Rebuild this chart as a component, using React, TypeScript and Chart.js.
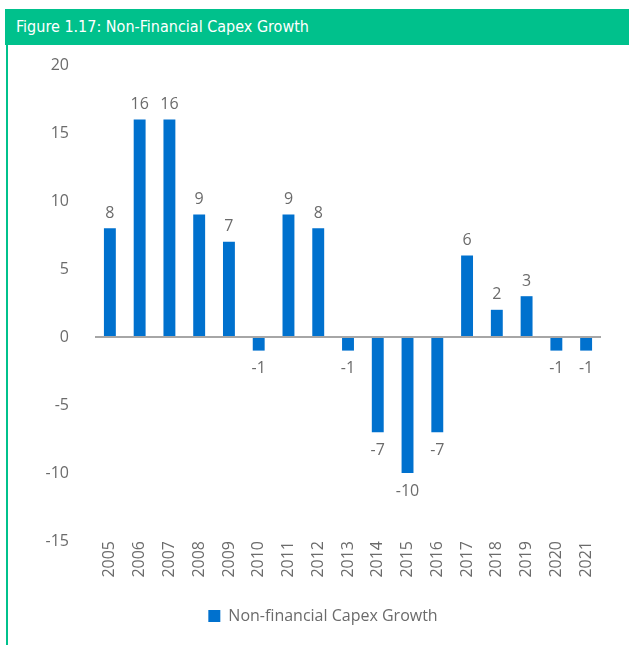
import React, { useEffect, useRef } from "react";
import { Chart, registerables } from "chart.js";

Chart.register(...registerables);

const title = "Figure 1.17: Non-Financial Capex Growth";
const seriesName = "Non-financial Capex Growth";
const years = ["2005","2006","2007","2008","2009","2010","2011","2012","2013","2014","2015","2016","2017","2018","2019","2020","2021"];
const growth = [8, 16, 16, 9, 7, -1, 9, 8, -1, -7, -10, -7, 6, 2, 3, -1, -1];
const yMin = -15;
const yMax = 20;
const yStep = 5;

const GREEN = "#00C18C";
const BLUE = "#0071CE";
const GRAY = "#6b6b6b";
const FONT = "'Open Sans', 'Noto Sans', sans-serif";

const valueLabels = {
  id: "valueLabels",
  afterDatasetsDraw(chart: any) {
    const ctx = chart.ctx;
    const meta = chart.getDatasetMeta(0);
    const data = chart.data.datasets[0].data as number[];
    ctx.save();
    ctx.font = `16px ${FONT}`;
    ctx.fillStyle = GRAY;
    ctx.textAlign = "center";
    ctx.textBaseline = "middle";
    meta.data.forEach((bar: any, i: number) => {
      const v = data[i];
      const y = v >= 0 ? bar.y - 15 : bar.y + 18;
      ctx.fillText(String(v), bar.x, y);
    });
    ctx.restore();
  },
};

export default function App() {
  const ref = useRef<HTMLCanvasElement | null>(null);

  useEffect(() => {
    if (!ref.current) return;
    const chart = new Chart(ref.current, {
      type: "bar",
      data: {
        labels: years,
        datasets: [
          {
            label: seriesName,
            data: growth,
            backgroundColor: BLUE,
            borderWidth: 0,
            barPercentage: 0.8,
            categoryPercentage: 0.5,
          },
        ],
      },
      options: {
        responsive: false,
        animation: false,
        layout: { padding: { top: 20, right: 0, left: 9, bottom: 11 } },
        plugins: {
          legend: {
            position: "bottom",
            labels: {
              boxWidth: 12,
              boxHeight: 12,
              padding: 10,
              color: GRAY,
              font: { family: FONT, size: 16 },
            },
          },
          tooltip: { enabled: false },
        },
        scales: {
          x: {
            grid: { display: false, drawTicks: false },
            border: { display: false },
            ticks: {
              minRotation: 90,
              maxRotation: 90,
              padding: 0,
              color: GRAY,
              font: { family: FONT, size: 16 },
            },
            afterFit(scale: any) {
              scale.height = 57;
            },
          },
          y: {
            min: yMin,
            max: yMax,
            ticks: {
              stepSize: yStep,
              padding: 26,
              color: GRAY,
              font: { family: FONT, size: 16 },
            },
            grid: {
              drawTicks: false,
              color: (c: any) => (c.tick && c.tick.value === 0 ? "#A6A6A6" : "rgba(0,0,0,0)"),
              lineWidth: 2,
            },
            border: { display: false },
            afterFit(scale: any) {
              scale.width = 78;
              scale.paddingTop = 0;
              scale.paddingBottom = 0;
            },
          },
          yRight: {
            position: "right",
            min: yMin,
            max: yMax,
            grid: { display: false, drawTicks: false },
            border: { display: false },
            ticks: { display: false },
            afterFit(scale: any) {
              scale.width = 28;
              scale.paddingTop = 0;
              scale.paddingBottom = 0;
            },
          },
        },
      },
      plugins: [valueLabels],
    });
    return () => chart.destroy();
  }, []);

  return (
    <div style={{ position: "absolute", left: 5, top: 9, width: 624, height: 636 }}>
      <div
        style={{
          height: 36,
          background: GREEN,
          color: "#fff",
          fontFamily: "'Liberation Sans Narrow', 'DejaVu Sans Condensed', sans-serif",
          fontSize: 16,
          lineHeight: "36px",
          paddingLeft: 11,
          boxSizing: "border-box",
        }}
      >
        {title}
      </div>
      <div style={{ position: "absolute", left: 1, top: 36, width: 2, bottom: 0, background: GREEN }} />
      <div style={{ position: "absolute", left: 3, top: 36, width: 621, height: 600 }}>
        <canvas ref={ref} width={621} height={600} style={{ width: 621, height: 600, display: "block" }} />
      </div>
    </div>
  );
}
